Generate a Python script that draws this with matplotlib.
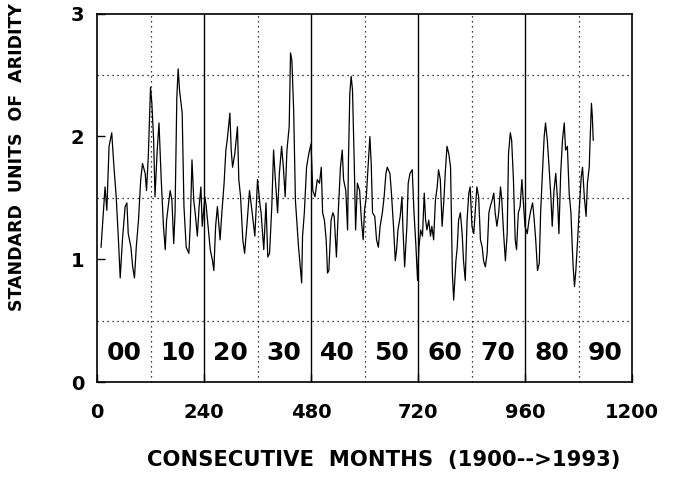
import matplotlib
matplotlib.use("Agg")
import matplotlib.pyplot as plt

# months since Jan 1900 and aridity values
months = [
    9, 18, 22, 27, 33, 38, 43, 48, 52, 57, 63, 67, 70, 76, 80, 84, 88, 93, 98, 102,
    108, 111, 115, 120, 123, 127, 130, 135, 139, 144, 149, 153, 156, 164, 168, 172, 175, 179, 182,
    185, 191, 195, 200, 206, 209, 213, 217, 221, 225, 229, 233, 236, 242, 245, 249, 254, 259,
    262, 266, 270, 276, 280, 285, 289, 292, 298, 301, 304, 309, 315, 318, 322, 327, 331, 336,
    342, 348, 354, 360, 366,
    368, 374, 379, 383, 387, 392, 396, 400, 405, 409, 414, 418, 422, 426, 431, 434, 437, 441,
    445, 449, 452, 456, 459, 461, 465, 470, 475, 480, 484, 489, 494, 499, 503, 506, 510, 514,
    517, 520, 525, 529, 532, 537, 541, 546, 550, 553,
    558, 562, 564, 567, 570, 573, 577, 580, 584, 589, 593, 597, 600, 604, 608, 612, 615, 618,
    623, 627, 631, 635, 640, 644, 648, 651, 657, 660, 665, 669, 672, 675, 680, 684, 686, 690,
    695, 698, 702, 707, 711, 715, 719, 722, 726, 730, 734, 737,
    740, 744, 748, 751, 755, 759, 763, 766, 770, 774, 778, 781, 785, 789, 793, 795, 797, 800,
    805, 808, 811, 815, 819, 822, 826, 830, 834, 837, 841, 845, 849, 852, 856, 860, 864, 867,
    871, 875, 879, 882, 886, 890, 893, 897, 901, 905, 908, 912, 916, 920, 923, 927,
    930, 934, 938, 941, 945, 949, 953, 956, 960, 965, 969, 973, 977, 980, 984, 988, 992, 995,
    999, 1003, 1006, 1010, 1014, 1018, 1021, 1025, 1029, 1033, 1036, 1040, 1044, 1048, 1051,
    1055, 1059, 1063, 1066, 1068, 1071, 1074, 1078, 1082, 1086, 1089, 1093, 1097, 1100, 1104,
    1106, 1109, 1111, 1113,
]
aridity = [
    1.10, 1.59, 1.40, 1.92, 2.03, 1.75, 1.51, 1.16, 0.85, 1.16, 1.43, 1.46, 1.21, 1.10, 0.94,
    0.85, 1.10, 1.32, 1.65, 1.78, 1.70, 1.56, 1.84, 2.40, 2.27, 1.97, 1.51, 1.89, 2.11, 1.65,
    1.27, 1.08, 1.32, 1.56, 1.48, 1.13, 1.38, 2.32, 2.55,
    2.38, 2.19, 1.43, 1.10, 1.05, 1.27, 1.81, 1.48, 1.35, 1.19, 1.43, 1.59, 1.27, 1.51, 1.43,
    1.27, 1.08, 0.99, 0.91, 1.27, 1.43, 1.16, 1.38, 1.62, 1.89, 1.97, 2.19, 1.89, 1.75, 1.86,
    2.08, 1.65, 1.51, 1.16, 1.05, 1.27, 1.56, 1.38, 1.19, 1.65, 1.43,
    1.38, 1.08, 1.46, 1.02, 1.05, 1.43, 1.89, 1.65, 1.38, 1.70, 1.92, 1.75, 1.51, 1.89, 2.08,
    2.68, 2.62, 2.22, 1.48, 1.27, 1.10, 0.94, 0.81, 1.19, 1.38, 1.75, 1.86, 1.94, 1.56, 1.51,
    1.65, 1.62, 1.75, 1.38, 1.32, 1.16, 0.89, 0.91, 1.32, 1.38, 1.35, 1.02, 1.38, 1.75, 1.89,
    1.65,
    1.56, 1.24, 1.81, 2.35, 2.49, 2.38, 1.78, 1.24, 1.62, 1.56, 1.32, 1.16, 1.40, 1.51, 1.75,
    2.00, 1.78, 1.38, 1.35, 1.16, 1.10, 1.27, 1.38, 1.51, 1.70, 1.75, 1.70, 1.56, 1.27, 0.99,
    1.08, 1.24, 1.35, 1.51, 1.27, 0.94, 1.27, 1.62, 1.70, 1.73, 1.38, 1.13, 0.83, 1.10, 1.24,
    1.19, 1.54, 1.32,
    1.24, 1.32, 1.19, 1.27, 1.16, 1.48, 1.59, 1.73, 1.65, 1.27, 1.48, 1.70, 1.92, 1.86, 1.75,
    1.32, 0.89, 0.67, 0.99, 1.10, 1.32, 1.38, 1.21, 0.99, 0.83, 1.32, 1.54, 1.59, 1.27, 1.21,
    1.43, 1.59, 1.51, 1.16, 1.10, 0.99, 0.94, 1.05, 1.38, 1.43, 1.48, 1.54, 1.38, 1.27, 1.38,
    1.59, 1.48, 1.21, 0.99, 1.21, 1.86, 2.03,
    1.97, 1.65, 1.16, 1.08, 1.38, 1.43, 1.65, 1.48, 1.27, 1.21, 1.32, 1.40, 1.46, 1.35, 1.16,
    0.91, 0.97, 1.38, 1.70, 2.00, 2.11, 1.97, 1.75, 1.51, 1.27, 1.56, 1.70, 1.48, 1.21, 1.70,
    1.97, 2.11, 1.89, 1.92, 1.54, 1.38, 1.10, 0.94, 0.78, 0.91, 1.16, 1.43, 1.67, 1.75, 1.51,
    1.35, 1.62, 1.75, 1.97, 2.27, 2.16, 1.97,
]

decade_labels = ["00", "10", "20", "30", "40", "50", "60", "70", "80", "90"]
decade_centers = [60, 180, 300, 420, 540, 660, 780, 900, 1020, 1140]
solid_lines = [240, 480, 720, 960]
dotted_lines = [120, 360, 600, 840, 1080]
hgrid = [0.5, 1.5, 2.5]
xticks = [0, 240, 480, 720, 960, 1200]
yticks = [0, 1, 2, 3]

plt.rcParams["font.family"] = "DejaVu Sans"
plt.rcParams["font.weight"] = "bold"

fig = plt.figure(figsize=(6.79, 4.91), dpi=100)
ax = fig.add_axes([0.1429, 0.221, 0.7879, 0.7515])

for x in solid_lines:
    ax.axvline(x, color="black", lw=1.0)
for x in dotted_lines:
    ax.axvline(x, color="black", lw=0.9, ls=(0, (1, 3)))
for y in hgrid:
    ax.axhline(y, color="black", lw=0.9, ls=(0, (1, 3)))

ax.plot(months, aridity, color="black", lw=0.9)

for lab, c in zip(decade_labels, decade_centers):
    ax.text(c, 0.24, lab, ha="center", va="center", fontsize=18, fontweight="bold")

ax.set_xlim(0, 1200)
ax.set_ylim(0, 3)
ax.set_xticks(xticks)
ax.set_yticks(yticks)
ax.tick_params(axis="both", direction="in", length=6, width=1, labelsize=14)
ax.tick_params(axis="x", pad=15)
ax.tick_params(axis="y", pad=9)
for lab in ax.get_xticklabels() + ax.get_yticklabels():
    lab.set_fontweight("bold")

fig.text(384 / 679, 1 - 460 / 491, "CONSECUTIVE  MONTHS  (1900-->1993)",
         ha="center", va="center", fontsize=15.2, fontweight="bold")
fig.text(17 / 679, 1 - 157 / 491, "STANDARD  UNITS  OF  ARIDITY", rotation=90,
         ha="center", va="center", fontsize=12.5, fontweight="bold")

for s in ax.spines.values():
    s.set_linewidth(1.2)

fig.savefig("out.png", dpi=100)
